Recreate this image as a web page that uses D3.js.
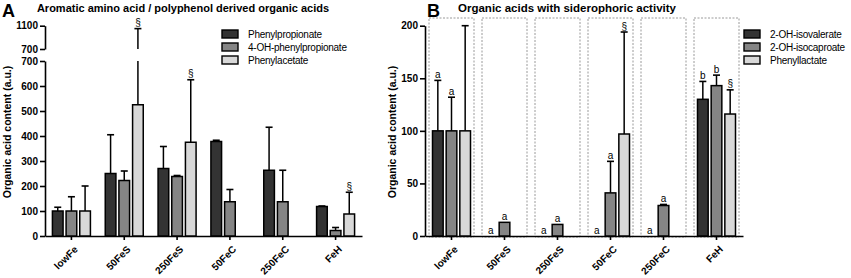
<!DOCTYPE html>
<html>
<head>
<meta charset="utf-8">
<script src="https://cdn.jsdelivr.net/npm/d3@7"></script>
<style>
    body { margin: 0; background: #fff; }
    svg { font-family: "Liberation Sans", Arial, sans-serif; }
    .axis path, .axis line { stroke: #000; stroke-width: 1.6px; }
    .axis text { font-size: 10px; font-weight: bold; fill: #000; }
</style>
</head>
<body>
<div id="chart"></div>
<script>
// categories
var groups = ["lowFe", "50FeS", "250FeS", "50FeC", "250FeC", "FeH"];
var fills = ["#333333", "#858585", "#d8d8d8"];

// panel A: aromatic amino acid / polyphenol derived
var seriesA = ["Phenylpropionate", "4-OH-phenylpropionate", "Phenylacetate"];
var phenylpropionate = [100, 250, 270, 378, 263, 118];
var phenylpropionateSd = [15, 155, 88, 5, 172, 2];
var ohPhenylpropionate = [100, 222, 238, 137, 137, 22];
var ohPhenylpropionateSd = [57, 38, 4, 49, 126, 12];
var phenylacetate = [100, 525, 375, null, null, 88];
var phenylacetateSd = [100, 525, 250, null, null, 87];
var phenylacetateMark = [null, "§", "§", null, null, "§"];
var ticksALow = [0, 100, 200, 300, 400, 500, 600, 700];
var ticksAHigh = [700, 1100];

// panel B: siderophoric activity
var seriesB = ["2-OH-isovalerate", "2-OH-isocaproate", "Phenyllactate"];
var isovalerate = [100, 0, 0, 0, 0, 130];
var isovalerateSd = [48, 0, 0, 0, 0, 17];
var isovalerateMark = ["a", "a", "a", "a", "a", "b"];
var isocaproate = [100, 13, 11, 41, 29, 143];
var isocaproateSd = [32, 0, 0, 30, 1, 10];
var isocaproateMark = ["a", "a", "a", "a", "a", "b"];
var phenyllactate = [100, 0, 0, 97, 0, 116];
var phenyllactateSd = [100, 0, 0, 97, 0, 23];
var phenyllactateMark = [null, null, null, "§", null, "§"];
var ticksB = [0, 50, 100, 150, 200];

function buildRows(values, sds, marks) {
    return groups.map(function(g, i) {
        return { group: g, value: values[i], sd: sds[i], mark: marks ? marks[i] : null };
    });
}

var svg = d3.select("#chart").append("svg")
    .attr("width", 851)
    .attr("height", 278);

BarPanel = function(_svg, _config) {
    this.svg = _svg;
    this.config = _config;
    this.initVis();
}

BarPanel.prototype.initVis = function() {
    var vis = this;
    var c = vis.config;

    vis.g = vis.svg.append("g");

    vis.x = d3.scaleBand().domain(groups).range([c.left, c.right]);
    vis.x1 = d3.scaleBand().domain([0, 1, 2]).range([-19, 19]).paddingInner(0.22);

    // dashed group boxes (panel B)
    if (c.boxes) {
        vis.g.selectAll(".box")
            .data(groups)
            .enter().append("rect")
            .attr("class", "box")
            .attr("x", function(d) { return vis.x(d) + vis.x.bandwidth() / 2 - 22.5; })
            .attr("y", 18)
            .attr("width", 45)
            .attr("height", c.base + 1 - 18)
            .attr("fill", "none")
            .attr("stroke", "#9a9a9a")
            .attr("stroke-width", 1)
            .attr("stroke-dasharray", "2,1.5");
    }

    // y axes (one or two segments)
    c.segments.forEach(function(s) {
        var ax = d3.axisLeft(s.scale).tickValues(s.ticks).tickFormat(d3.format("d"))
            .tickSize(5).tickSizeOuter(0).tickPadding(2);
        vis.g.append("g")
            .attr("class", "axis")
            .attr("transform", "translate(" + c.left + ",0)")
            .call(ax);
    });

    // x axis
    var xAxis = d3.axisBottom(vis.x).tickSize(4).tickSizeOuter(0).tickFormat("");
    vis.g.append("g")
        .attr("class", "axis")
        .attr("transform", "translate(0," + c.base + ")")
        .call(xAxis);

    vis.g.selectAll(".xlabel")
        .data(groups)
        .enter().append("text")
        .attr("transform", function(d) {
            return "translate(" + (vis.x(d) + vis.x.bandwidth() / 2 + 7) + "," + (c.base + 14) + ") rotate(-45)";
        })
        .attr("text-anchor", "end")
        .style("font-size", "10px")
        .style("font-weight", "bold")
        .text(function(d) { return d; });

    // y label
    vis.g.append("text")
        .attr("transform", "translate(" + c.ylabelX + ",132) rotate(-90)")
        .attr("text-anchor", "middle")
        .style("font-size", "10.5px")
        .style("font-weight", "bold")
        .text("Organic acid content (a.u.)");

    // title and panel letter
    vis.g.append("text")
        .attr("x", c.titleX)
        .attr("y", 12)
        .attr("text-anchor", "middle")
        .style("font-size", c.titleSize)
        .style("font-weight", "bold")
        .text(c.title);
    vis.g.append("text")
        .attr("x", c.letterX)
        .attr("y", 17)
        .style("font-size", "18px")
        .style("font-weight", "bold")
        .text(c.letter);

    // legend
    var leg = vis.g.selectAll(".legend")
        .data(c.series)
        .enter().append("g")
        .attr("class", "legend")
        .attr("transform", function(d, i) { return "translate(" + c.legendX + "," + (34 + i * 13) + ")"; });
    leg.append("rect")
        .attr("x", 0).attr("y", -4)
        .attr("width", 16).attr("height", 8)
        .attr("fill", function(d, i) { return fills[i]; })
        .attr("stroke", "#000")
        .attr("stroke-width", 1.4);
    leg.append("text")
        .attr("x", 26).attr("y", 4)
        .style("font-size", "10px")
        .style("letter-spacing", "-0.25px")
        .text(function(d) { return d; });

    vis.updateVis();
}

BarPanel.prototype.yPos = function(v) {
    var segs = this.config.segments;
    return segs[0].scale(Math.min(v, segs[0].scale.domain()[1]));
}

BarPanel.prototype.updateVis = function() {
    var vis = this;
    var c = vis.config;

    c.rows.forEach(function(rows, si) {
        var sg = vis.g.append("g");
        var cx = function(d) { return vis.x(d.group) + vis.x.bandwidth() / 2 + vis.x1(si); };
        var mid = function(d) { return cx(d) + vis.x1.bandwidth() / 2; };

        // error lines (up only)
        sg.selectAll(".err")
            .data(rows.filter(function(d) { return d.value && d.sd; }))
            .enter().each(function(d) {
                var top = d.value + d.sd;
                var e = d3.select(this);
                e.append("line")
                    .attr("x1", mid(d)).attr("x2", mid(d))
                    .attr("y1", vis.yPos(d.value)).attr("y2", vis.yPos(top))
                    .attr("stroke", "#000").attr("stroke-width", 1.5);
                var capY = vis.yPos(top);
                if (c.segments.length > 1 && top > c.segments[0].scale.domain()[1]) {
                    var hi = c.segments[1].scale;
                    e.append("line")
                        .attr("x1", mid(d)).attr("x2", mid(d))
                        .attr("y1", hi(hi.domain()[0])).attr("y2", hi(top))
                        .attr("stroke", "#000").attr("stroke-width", 1.5);
                    capY = hi(top);
                }
                e.append("line")
                    .attr("x1", mid(d) - 3.5).attr("x2", mid(d) + 3.5)
                    .attr("y1", capY).attr("y2", capY)
                    .attr("stroke", "#000").attr("stroke-width", 1.6);
            });

        // bars
        sg.selectAll(".bar")
            .data(rows.filter(function(d) { return d.value; }))
            .enter().append("rect")
            .attr("class", "bar")
            .attr("x", cx)
            .attr("y", function(d) { return vis.yPos(d.value); })
            .attr("width", vis.x1.bandwidth())
            .attr("height", function(d) { return c.base - vis.yPos(d.value); })
            .attr("fill", fills[si])
            .attr("stroke", "#000")
            .attr("stroke-width", 1.5);

        // significance marks
        sg.selectAll(".mark")
            .data(rows.filter(function(d) { return d.mark; }))
            .enter().append("text")
            .attr("x", mid)
            .attr("y", function(d) {
                var top = (d.value || 0) + (d.sd || 0);
                var y = vis.yPos(top);
                if (c.segments.length > 1 && top > c.segments[0].scale.domain()[1]) y = c.segments[1].scale(top);
                return d.value ? y - 2.5 : c.base - 2;
            })
            .attr("text-anchor", "middle")
            .style("font-size", "10px")
            .text(function(d) { return d.mark; });
    });
}

var panelA = new BarPanel(svg, {
    left: 45, right: 362, base: 236,
    segments: [
        { scale: d3.scaleLinear().domain([0, 700]).range([236, 61]), ticks: ticksALow },
        { scale: d3.scaleLinear().domain([700, 1100]).range([49, 25.7]), ticks: ticksAHigh }
    ],
    series: seriesA,
    rows: [
        buildRows(phenylpropionate, phenylpropionateSd, null),
        buildRows(ohPhenylpropionate, ohPhenylpropionateSd, null),
        buildRows(phenylacetate, phenylacetateSd, phenylacetateMark)
    ],
    title: "Aromatic amino acid / polyphenol derived organic acids",
    titleX: 183, titleSize: "11px", letter: "A", letterX: 2,
    legendX: 222, ylabelX: 11, boxes: false
});

var panelB = new BarPanel(svg, {
    left: 425, right: 743, base: 236,
    segments: [
        { scale: d3.scaleLinear().domain([0, 200]).range([236, 25.7]), ticks: ticksB }
    ],
    series: seriesB,
    rows: [
        buildRows(isovalerate, isovalerateSd, isovalerateMark),
        buildRows(isocaproate, isocaproateSd, isocaproateMark),
        buildRows(phenyllactate, phenyllactateSd, phenyllactateMark)
    ],
    title: "Organic acids with siderophoric activity",
    titleX: 567, titleSize: "11.5px", letter: "B", letterX: 427,
    legendX: 744, ylabelX: 396, boxes: true
});
</script>
</body>
</html>
